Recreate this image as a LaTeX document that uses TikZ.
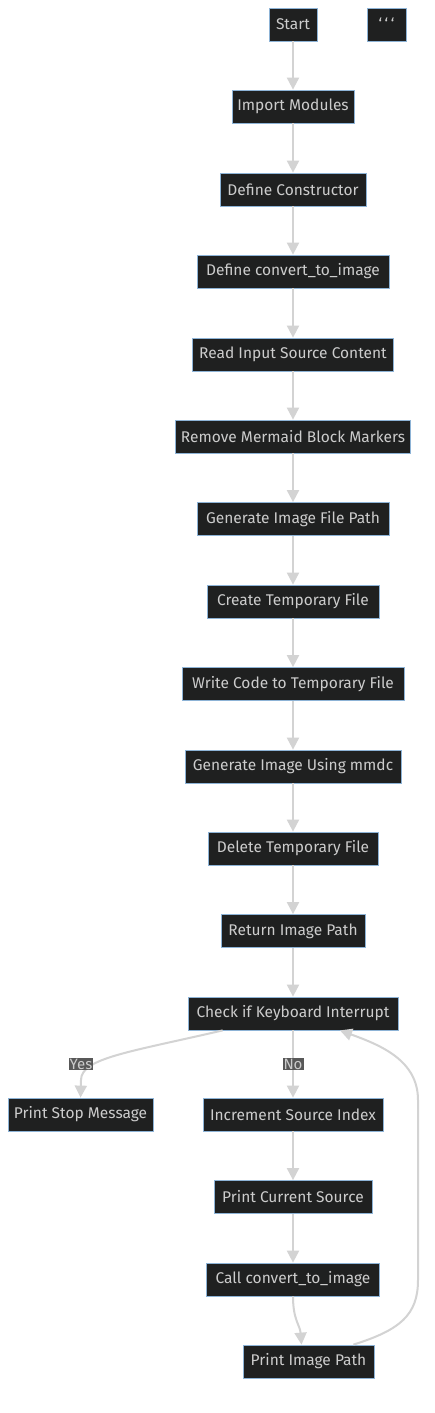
\documentclass[tikz,border=0pt]{standalone}
\usepackage{fontspec}
\setmainfont{Fira Sans}
\usetikzlibrary{arrows.meta}
\definecolor{nodefill}{HTML}{1F2020}
\definecolor{nodeborder}{HTML}{8DB3D6}
\definecolor{nodetext}{HTML}{CCCCCC}
\definecolor{edgecol}{HTML}{D3D3D3}
\definecolor{lblfill}{HTML}{585858}
\tikzset{
  box/.style={draw=nodeborder, fill=nodefill, text=nodetext, line width=0.8pt,
    minimum height=33pt, inner xsep=0pt, inner ysep=0pt, font=\fontsize{15.5}{17}\selectfont},
  edge/.style={draw=edgecol, line width=2pt, -{Triangle[length=12pt,width=12pt]}},
  lbl/.style={fill=lblfill, text=nodetext, inner sep=1pt, font=\fontsize{15}{17}\selectfont}
}
\begin{document}
\begin{tikzpicture}[x=1pt,y=-1pt]
\useasboundingbox[fill=white] (0,0) rectangle (434,1413);
\node[box, minimum width=48pt] (start) at (293,24.5) {Start};
\node[box, minimum width=39pt] (tick) at (386.5,24.5) {\raisebox{1.5pt}{\symbol{96}\,\symbol{96}\,\symbol{96}}};
\node[box, minimum width=122pt] (imp) at (293,106.5) {Import Modules};
\node[box, minimum width=146pt] (ctor) at (293,189.5) {Define Constructor};
\node[box, minimum width=192pt] (conv) at (293,271.5) {Define convert\_to\_image};
\node[box, minimum width=201pt] (read) at (293,354.5) {Read Input Source Content};
\node[box, minimum width=235pt] (rem) at (293,436.5) {Remove Mermaid Block Markers};
\node[box, minimum width=192pt] (gen) at (293,519) {Generate Image File Path};
\node[box, minimum width=172pt] (create) at (293,601.5) {Create Temporary File};
\node[box, minimum width=222pt] (write) at (293,684) {Write Code to Temporary File};
\node[box, minimum width=216pt] (mmdc) at (293,766.5) {Generate Image Using mmdc};
\node[box, minimum width=170pt] (del) at (293,848.5) {Delete Temporary File};
\node[box, minimum width=144pt] (ret) at (293,931) {Return Image Path};
\node[box, minimum width=210pt] (check) at (293,1013.5) {Check if Keyboard Interrupt};
\node[box, minimum width=145pt] (stop) at (80.5,1114.5) {Print Stop Message};
\node[box, minimum width=180pt] (inc) at (293,1114.5) {Increment Source Index};
\node[box, minimum width=158pt] (cur) at (293,1197) {Print Current Source};
\node[box, minimum width=173pt] (call) at (293,1279.5) {Call convert\_to\_image};
\node[box, minimum width=131pt] (pip) at (308.5,1361.5) {Print Image Path};

\draw[edge] (start) -- (imp);
\draw[edge] (imp) -- (ctor);
\draw[edge] (ctor) -- (conv);
\draw[edge] (conv) -- (read);
\draw[edge] (read) -- (rem);
\draw[edge] (rem) -- (gen);
\draw[edge] (gen) -- (create);
\draw[edge] (create) -- (write);
\draw[edge] (write) -- (mmdc);
\draw[edge] (mmdc) -- (del);
\draw[edge] (del) -- (ret);
\draw[edge] (ret) -- (check);
\draw[edge] ([xshift=35pt]check.south west) .. controls (130,1052) and (81,1058) .. (81,1080) -- (stop.north);
\draw[edge] (check) -- (inc);
\draw[edge] (inc) -- (cur);
\draw[edge] (cur) -- (call);
\draw[edge] (call.south) .. controls (293,1320) and (300,1325) .. ([xshift=-7pt]pip.north);
\draw[edge] ([xshift=-21pt]pip.north east) .. controls (400,1330) and (418,1315) .. (418,1280) -- (418,1100) .. controls (418,1060) and (380,1045) .. ([xshift=47pt]check.south);
\node[lbl] (yes) at (81,1064) {Yes};
\node[lbl] (no) at (293,1064) {No};
\end{tikzpicture}
\end{document}
